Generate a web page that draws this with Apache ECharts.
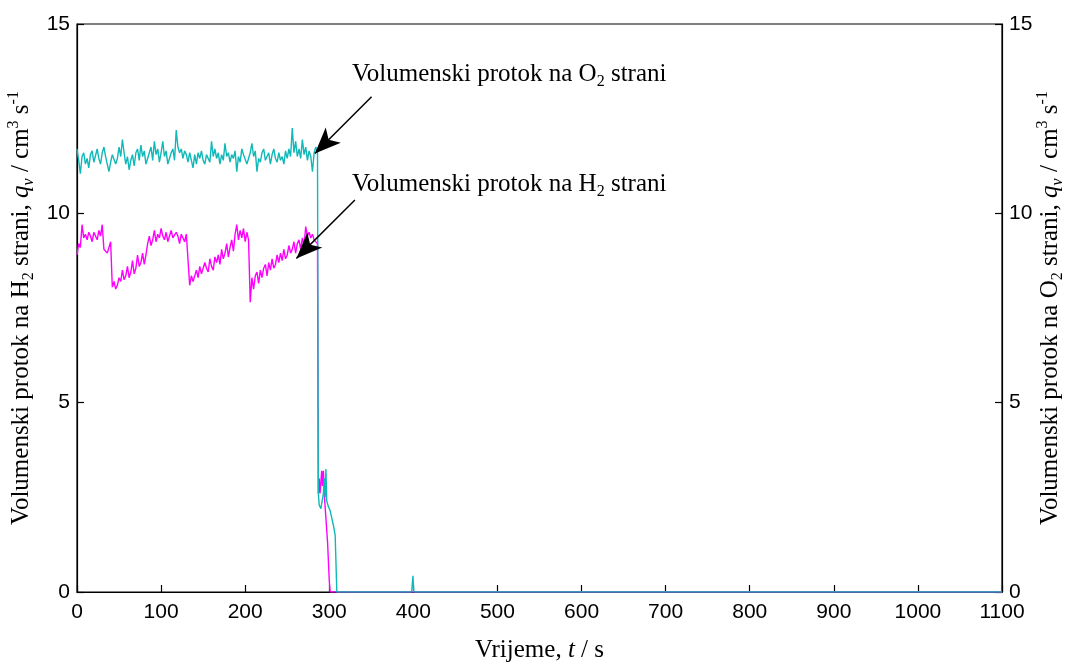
<!DOCTYPE html>
<html>
<head>
<meta charset="utf-8">
<script src="https://cdn.jsdelivr.net/npm/echarts@6/dist/echarts.min.js"></script>
<style>html,body{margin:0;padding:0;background:#fff}#c{width:1071px;height:662px}</style>
</head>
<body>
<div id="c"></div>
<script>
// Sampling interval of the steady part (s)
const sampleStep = 2;
// H2 side flow, t = 0 .. 286 s
const h2Main = [
 8.9,9.2,9.1,9.7,9.35,9.45,9.3,9.5,9.4,9.25,9.5,9.45,9.3,9.55,9.4,9.7,9.05,9.1,8.95,9.0,
 9.25,8.05,8.2,8.0,8.1,8.3,8.2,8.5,8.25,8.35,8.6,8.3,8.45,8.75,8.4,8.55,8.9,8.6,8.7,8.95,
 8.65,8.9,9.2,9.4,9.15,9.3,9.55,9.25,9.45,9.35,9.6,9.4,9.3,9.5,9.25,9.4,9.55,9.35,9.3,9.5,
 9.4,9.2,9.45,9.35,9.25,9.45,9.4,8.1,8.35,8.2,8.25,8.5,8.3,8.6,8.4,8.35,8.7,8.55,8.45,8.8,
 8.6,8.5,8.85,8.7,8.9,8.65,9.05,8.8,8.95,9.2,8.85,9.1,9.3,9.0,9.45,9.7,9.3,9.55,9.35,9.6,
 9.25,9.5,9.3,7.65,8.3,8.0,8.35,8.45,8.15,8.5,8.3,8.55,8.65,8.35,8.7,8.5,8.8,8.55,8.65,8.9,
 8.7,8.95,8.75,9.05,8.8,8.9,9.15,8.95,9.05,9.25,8.95,9.2,9.3,9.05,9.35,9.15,9.65,9.4,9.5,9.35,
 9.45,9.3,9.25,9.2
];
// H2 side flow after the drop
const h2TailT = [287,288,289,290,291,292,293,294,296,298,300,301,1100];
const h2TailV = [2.6,3.0,2.6,2.9,3.2,2.8,3.2,2.6,1.95,1.3,0.3,0,0];

// O2 side flow, t = 0 .. 286 s
const o2Main = [
 11.7,11.4,11.05,11.5,11.6,11.3,11.45,11.2,11.55,11.65,11.35,11.4,11.7,11.45,11.3,11.6,11.75,11.5,11.3,11.1,
 11.35,11.55,11.6,11.3,11.45,11.75,11.5,11.95,11.6,11.3,11.5,11.15,11.4,11.55,11.25,11.6,11.7,11.4,11.8,11.5,
 11.65,11.3,11.45,11.6,11.75,11.4,11.9,11.55,11.7,11.35,11.6,11.9,11.5,11.65,11.3,11.45,11.6,11.7,11.4,12.2,
 11.75,11.6,11.7,11.45,11.65,11.55,11.35,11.6,11.4,11.2,11.55,11.3,11.6,11.45,11.65,11.4,11.3,11.55,11.6,11.35,
 11.9,11.5,11.7,11.45,11.6,11.3,11.55,11.4,11.85,11.5,11.6,11.35,11.55,11.45,11.65,11.1,11.5,11.35,11.7,11.55,
 11.6,11.3,11.45,11.6,11.85,11.5,11.65,11.1,11.45,11.35,11.6,11.7,11.4,11.35,11.6,11.3,11.55,11.7,11.45,11.35,
 11.6,11.4,11.5,11.3,11.65,11.45,11.7,11.5,12.25,11.6,11.9,11.5,11.7,11.45,11.95,11.55,11.75,11.4,11.65,11.5,
 11.1,11.6,11.75,11.6
];
// O2 side flow after the drop
const o2TailT = [287,288,290,292,293,294,295,296,297,299,301,303,305,307,308.5,309,398,399.5,400.5,1100];
const o2TailV = [2.6,2.3,2.2,2.25,2.6,3.0,2.5,3.25,2.4,2.25,2.15,1.95,1.75,1.5,1.45,0,0,0.43,0,0];

const xTicks = {min: 0, max: 1100, step: 100};
const yTicks = {min: 0, max: 15, step: 5};

// annotation arrows (data coords: [t, q])
const arrowO2 = [[350.3, 13.08], [282.9, 11.58]];
const arrowH2 = [[330.5, 10.35], [260.9, 8.81]];

function build(main, tailT, tailV) {
  const d = main.map((v, i) => [i * sampleStep, v]);
  tailT.forEach((t, i) => d.push([t, tailV[i]]));
  return d;
}

const serif = "'Liberation Serif','Times New Roman',serif";
const sans = "'Liberation Sans',Arial,sans-serif";
const rich = {
  sub: {fontFamily: serif, fontSize: 16, verticalAlign: 'bottom', lineHeight: 16, color: '#000'},
  sup: {fontFamily: serif, fontSize: 16, verticalAlign: 'top', lineHeight: 16, color: '#000'},
  it: {fontFamily: serif, fontSize: 25, fontStyle: 'italic', color: '#000', lineHeight: 31},
  itsub: {fontFamily: serif, fontSize: 16, fontStyle: 'italic', verticalAlign: 'bottom', lineHeight: 16, color: '#000'}
};
const plain = v => String(v);

function yAxisCfg(pos, side, gap) {
  return {
    type: 'value', position: pos, min: yTicks.min, max: yTicks.max, interval: yTicks.step,
    name: 'Volumenski protok na ' + side + ' strani, {it|q}{itsub|v} / cm{sup|3} s{sup|-1}',
    nameLocation: 'middle', nameGap: gap, nameRotate: 90, nameMoveOverlap: false,
    nameTextStyle: {fontFamily: serif, fontSize: 25, color: '#000', lineHeight: 31, rich: rich},
    axisLine: {show: true, lineStyle: {color: '#000', width: 1.2}},
    axisTick: {show: true, inside: true, length: 7, lineStyle: {color: '#000', width: 1.2}},
    axisLabel: {fontFamily: sans, fontSize: 21, color: '#000', margin: 7, formatter: plain},
    splitLine: {show: false}
  };
}

const chart = echarts.init(document.getElementById('c'), null, {renderer: 'canvas'});
chart.setOption({
  animation: false,
  backgroundColor: '#fff',
  grid: {left: 77, right: 69, top: 24, bottom: 70, show: true, borderColor: '#000', borderWidth: 1.2,
         containLabel: false, outerBoundsMode: 'none'},
  xAxis: {
    type: 'value', min: xTicks.min, max: xTicks.max, interval: xTicks.step,
    name: 'Vrijeme, {it|t} / s', nameLocation: 'middle', nameGap: 43, nameMoveOverlap: false,
    nameTextStyle: {fontFamily: serif, fontSize: 25, color: '#000', lineHeight: 31, rich: rich},
    axisLine: {show: true, onZero: false, lineStyle: {color: '#000', width: 1.2}},
    axisTick: {show: true, inside: true, length: 7, lineStyle: {color: '#000', width: 1.2}},
    axisLabel: {fontFamily: sans, fontSize: 21, color: '#000', margin: 10, formatter: plain},
    splitLine: {show: false}
  },
  yAxis: [yAxisCfg('left', 'H{sub|2}', 40), yAxisCfg('right', 'O{sub|2}', 33)],
  series: [
    {
      name: 'H2', type: 'line', yAxisIndex: 0, showSymbol: false, symbol: 'none',
      data: build(h2Main, h2TailT, h2TailV),
      lineStyle: {color: '#ff00ff', width: 1.4}, itemStyle: {color: '#ff00ff'},
      markLine: {
        silent: true, symbol: ['none', 'arrow'], symbolSize: [16, 26],
        label: {show: false}, lineStyle: {color: '#000', width: 1.5, type: 'solid'},
        itemStyle: {color: '#000'}, animation: false,
        data: [[{coord: arrowH2[0]}, {coord: arrowH2[1]}]]
      }
    },
    {
      name: 'O2', type: 'line', yAxisIndex: 1, showSymbol: false, symbol: 'none',
      data: build(o2Main, o2TailT, o2TailV),
      lineStyle: {color: '#10b8b8', width: 1.4}, itemStyle: {color: '#10b8b8'},
      markLine: {
        silent: true, symbol: ['none', 'arrow'], symbolSize: [16, 26],
        label: {show: false}, lineStyle: {color: '#000', width: 1.5, type: 'solid'},
        itemStyle: {color: '#000'}, animation: false,
        data: [[{coord: arrowO2[0]}, {coord: arrowO2[1]}]]
      }
    }
  ],
  graphic: [
    {type: 'text', left: 352, top: 59, style: {text: 'Volumenski protok na O{sub|2} strani', fontFamily: serif, fontSize: 25, fill: '#000', lineHeight: 31, rich: rich}},
    {type: 'text', left: 352, top: 169, style: {text: 'Volumenski protok na H{sub|2} strani', fontFamily: serif, fontSize: 25, fill: '#000', lineHeight: 31, rich: rich}}
  ]
});
</script>
</body>
</html>
